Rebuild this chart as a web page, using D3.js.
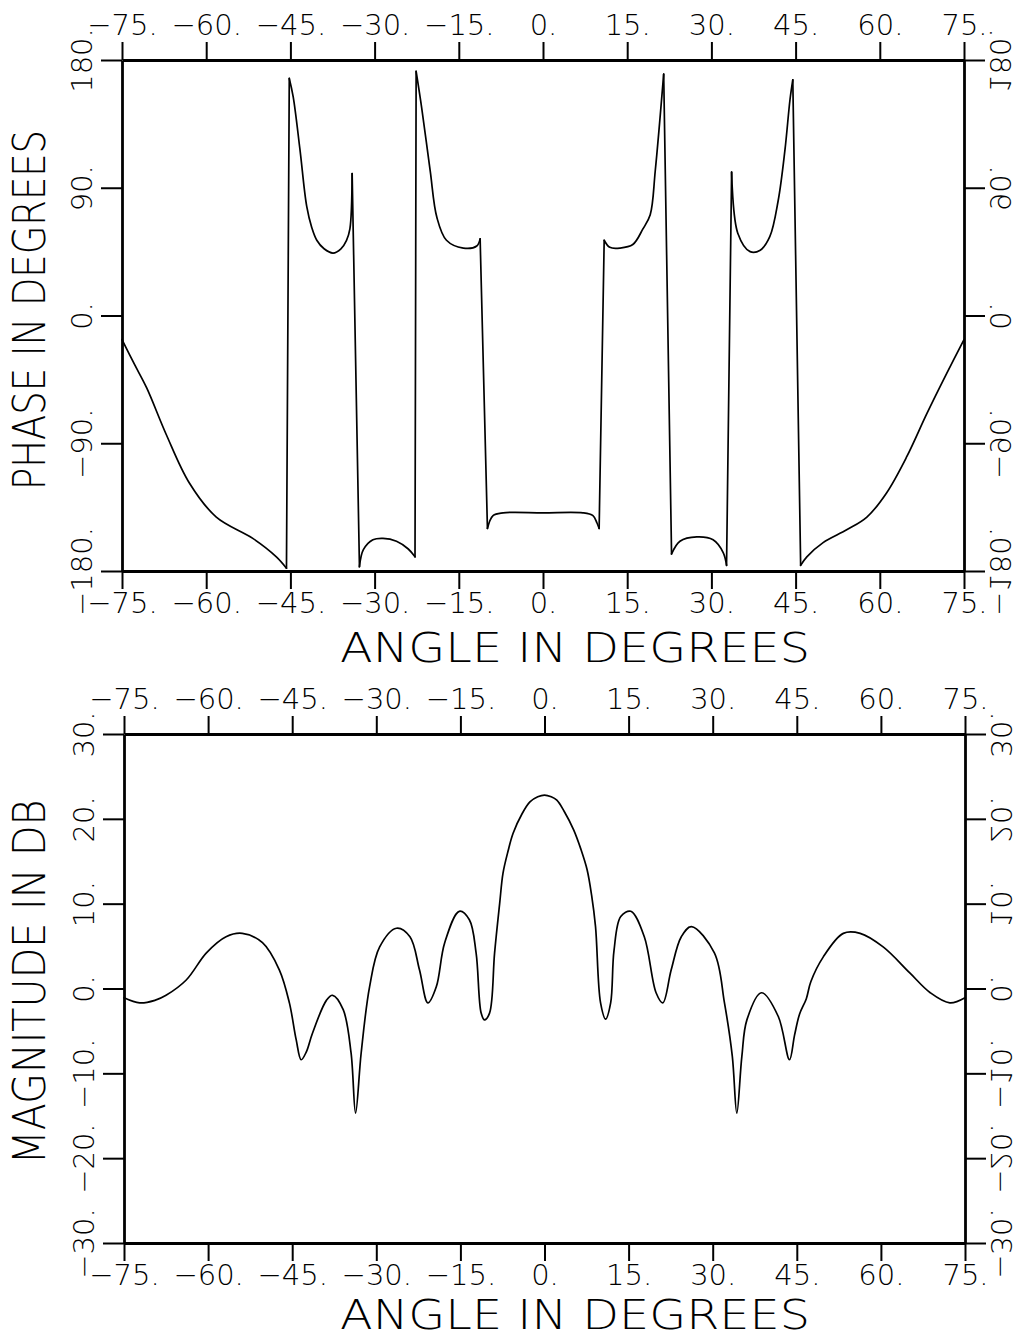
<!DOCTYPE html>
<html>
<head>
<meta charset="utf-8">
<script src="https://cdn.jsdelivr.net/npm/d3@7/dist/d3.min.js"></script>
<style>
  body { margin: 0; background: #fff; }
  svg { display: block; }
  text { font-family: "DejaVu Sans", "Liberation Sans", sans-serif; font-weight: 200; fill: #000; }
</style>
</head>
<body>
<svg id="chart" width="1017" height="1340"></svg>
<script>
// tick values
var angleTicks = [-75, -60, -45, -30, -15, 0, 15, 30, 45, 60, 75];
var phaseTicks = [-180, -90, 0, 90, 180];
var magTicks = [-30, -20, -10, 0, 10, 20, 30];

// phase curve (angle in degrees, phase in degrees)
var phaseAngle = [-75, -72.7, -70.6, -67.1, -63, -58.2, -51.7, -47.5, -45.7,
  -45.2, -44.5, -43.3, -42.1, -41.2, -40.3, -39, -37.4, -36, -35, -34.4, -34.0,
  -32.7, -32.0, -30.3, -28.5, -26.1, -24, -22.8,
  -22.6, -21.6, -20.1, -18.9, -17.2, -14.2, -11.8, -11.2,
  -9.9, -8.9, -7.1, 0, 7.1, 8.9, 9.6, 10.0,
  10.9, 11.9, 13.7, 16, 17.8, 19.1, 20, 21.5,
  22.9, 24.4, 27.4, 30.3, 32.1, 32.7,
  33.6, 34.7, 36.9, 38.7, 40.4, 41.9, 43.1, 44, 44.5,
  45.9, 47, 49.9, 54.1, 57.7, 61.2, 64.8, 68.4, 71.9, 75];
var phaseValue = [-17, -35, -51, -84, -118, -142, -157, -170, -178,
  167, 154, 117, 77, 62, 53, 47, 44, 47, 53, 61, 100,
  -177, -165, -158, -157, -159, -164.5, -170,
  172, 146, 102, 69, 53, 47.5, 49, 54,
  -150, -141, -139, -139, -139, -141, -146, -150,
  53, 48, 47.5, 50, 61, 71, 102, 170,
  -168, -159, -156, -158, -167, -176,
  101, 58, 45, 46, 55.5, 81, 116.5, 152, 166,
  -176, -170, -160, -151, -142, -125, -99.5, -69, -41, -17];

// magnitude curve (angle in degrees, magnitude in dB)
var magAngle = [-75, -72.2, -69.5, -67.5, -63.9, -60.3, -56.8, -53.9, -50.3, -47.3, -45.5, -44.3, -43.4, -42.5, -41.4,
  -38.9, -37.8, -35.9, -34.5, -33.7, -32.7, -31.2, -29.4, -26.4, -24, -22.3, -20.8, -19.3, -17.8, -15.2, -13.4,
  -12.2, -11.3, -10.7, -9.8, -8.9, -8, -7.4, -6.5, -5.6, -4, -2.6, -1.2, 0, 1.2, 2.2, 3.5, 5.2, 6.5, 7.6, 8.4, 9.1,
  10.0, 10.9, 11.8, 12.4, 13.6, 15.4,
  17.8, 19.9, 21.1, 22.6, 24.4, 26.2, 30.3, 32.1, 33.5, 34.3, 35.2, 36.1, 38.7, 41.7, 43.7, 44.6, 45.5,
  46.7, 47.5, 49.7, 53.3, 56.3, 60.4, 65.2, 68.8, 72.3, 75];
var magValue = [-1.1, -1.7, -1.4, -0.8, 1.0, 4.2, 6.1, 6.5, 5.4, 2.2, -1.7, -6, -8.4, -7.5, -5.3,
  -1.4, -0.8, -2.5, -7.6, -14.7, -7.6, 0.2, 4.9, 7.1, 6.1, 2.2, -1.7, 0.2, 5.4, 9.1, 8.1,
  4.2, -2.9, -3.7, -2.9, 4.2, 10, 13.6, 16.2, 18.3, 20.6, 22.0, 22.6, 22.8, 22.6, 22.2, 20.9, 18.7, 16.4, 14.0, 11, 7.3,
  -1.7, -3.6, -1.7, 4.5, 8.5, 9.1,
  6.1, -0.5, -1.7, 2.2, 6.1, 7.3, 4.2, -1.7, -8, -14.7, -8, -3.7, -0.5, -3.3, -8.4, -5.5, -3,
  -1.2, 0.8, 3.7, 6.5, 6.5, 4.9, 1.8, -0.5, -1.7, -1.1];

var svg = d3.select("#chart");

function label(d) {
  return (d < 0 ? "\u2212" : "") + Math.abs(d) + ".";
}

// split a trace where the phase wraps, so each smooth piece is curved on its own
function pieces(pts) {
  var out = [[pts[0]]];
  for (var i = 1; i < pts.length; i++) {
    if (Math.abs(pts[i][1] - pts[i - 1][1]) > 100) out.push([]);
    out[out.length - 1].push(pts[i]);
  }
  return out;
}

function panel(p) {
  var x = d3.scaleLinear().domain([-75, 75]).range([p.left, p.right]);
  var y = d3.scaleLinear().domain(p.yDomain).range([p.bottom, p.top]);
  var g = svg.append("g");

  g.append("g").attr("transform", "translate(0," + p.top + ")")
      .call(d3.axisTop(x).tickValues(angleTicks).tickSize(18).tickSizeOuter(0).tickPadding(7).tickFormat(label));
  g.append("g").attr("transform", "translate(0," + p.bottom + ")")
      .call(d3.axisBottom(x).tickValues(angleTicks).tickSize(18).tickSizeOuter(0).tickPadding(3).tickFormat(label));
  var left = g.append("g").attr("transform", "translate(" + p.left + ",0)")
      .call(d3.axisLeft(y).tickValues(p.yTicks).tickSize(21).tickSizeOuter(0).tickFormat(label));
  var right = g.append("g").attr("transform", "translate(" + p.right + ",0)")
      .call(d3.axisRight(y).tickValues(p.yTicks).tickSize(21).tickSizeOuter(0).tickFormat(label));

  g.selectAll(".domain").attr("stroke", "#000").attr("stroke-width", 2.8);
  g.selectAll(".tick line").attr("stroke", "#000").attr("stroke-width", 2);
  g.selectAll("text").attr("font-size", 29).attr("font-family", null);

  left.selectAll(".tick text")
      .attr("x", null).attr("dy", null).attr("text-anchor", "middle")
      .attr("transform", "translate(-30,0) rotate(-90)");
  // right side labels are printed mirrored in the original plot
  right.selectAll(".tick text")
      .attr("x", null).attr("dy", null).attr("text-anchor", "middle")
      .attr("transform", "translate(26,0) rotate(90) scale(-1,1)");

  var smooth = d3.line()
      .x(function(d) { return x(d[0]); })
      .y(function(d) { return y(d[1]); })
      .curve(d3.curveCatmullRom.alpha(0.5));
  var straight = d3.line()
      .x(function(d) { return x(d[0]); })
      .y(function(d) { return y(d[1]); });

  var segs = pieces(d3.zip(p.xs, p.ys));
  var jumps = [];
  for (var i = 1; i < segs.length; i++) {
    jumps.push([segs[i - 1][segs[i - 1].length - 1], segs[i][0]]);
  }

  g.selectAll(".seg")
      .data(segs.concat(jumps))
      .enter().append("path")
      .attr("class", "seg")
      .attr("d", function(d, i) { return i < segs.length ? smooth(d) : straight(d); })
      .attr("fill", "none")
      .attr("stroke", "#000")
      .attr("stroke-width", 1.7)
      .attr("stroke-linejoin", "round")
      .attr("stroke-linecap", "round");

  g.append("text")
      .attr("x", 340).attr("y", p.titleBase)
      .attr("font-size", 40)
      .attr("textLength", 470).attr("lengthAdjust", "spacingAndGlyphs")
      .text("ANGLE IN DEGREES");

  g.append("text")
      .attr("transform", "translate(45," + p.titleY + ") rotate(-90)")
      .attr("text-anchor", "middle")
      .attr("font-size", 45)
      .attr("textLength", p.titleLen).attr("lengthAdjust", "spacingAndGlyphs")
      .text(p.title);
}

panel({
  left: 122, right: 964, top: 60, bottom: 571,
  yDomain: [-180, 180], yTicks: phaseTicks,
  xs: phaseAngle, ys: phaseValue,
  title: "PHASE IN DEGREES", titleY: 310, titleLen: 360, titleBase: 662
});

panel({
  left: 124, right: 965, top: 734, bottom: 1243,
  yDomain: [-30, 30], yTicks: magTicks,
  xs: magAngle, ys: magValue,
  title: "MAGNITUDE IN DB", titleY: 982, titleLen: 365, titleBase: 1329
});
</script>
</body>
</html>
